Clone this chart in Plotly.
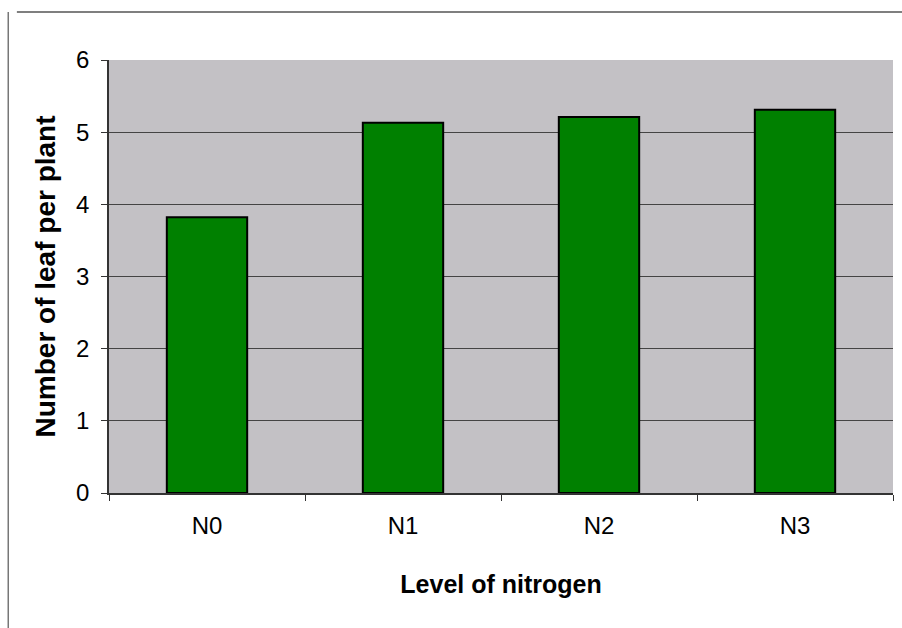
import plotly.graph_objects as go

# Nitrogen treatments and mean leaf count per plant
levels = ["N0", "N1", "N2", "N3"]
leaves_per_plant = [3.82, 5.13, 5.21, 5.31]
y_ticks = [0, 1, 2, 3, 4, 5, 6]

fig = go.Figure(
    go.Bar(
        x=levels,
        y=leaves_per_plant,
        marker=dict(color="#008000", line=dict(color="#000000", width=2)),
        width=0.41,
    )
)

fig.update_layout(
    width=902,
    height=628,
    margin=dict(l=109, r=9, t=60, b=135),
    paper_bgcolor="#ffffff",
    plot_bgcolor="#c3c1c5",
    showlegend=False,
    font=dict(family="Liberation Sans, Arial, sans-serif", color="#000000"),
    shapes=[
        # outer chart frame
        dict(type="line", xref="paper", yref="paper", x0=-0.1175, x1=1.02, y0=1.111, y1=1.111,
             line=dict(color="#555555", width=1.5)),
        dict(type="line", xref="paper", yref="paper", x0=-0.1285, x1=-0.1285, y0=-0.32, y1=1.111,
             line=dict(color="#777777", width=1.5)),
    ],
)

fig.update_xaxes(
    type="category",
    tickson="boundaries",
    ticks="outside",
    ticklen=6,
    tickcolor="#333333",
    showline=True,
    linecolor="#333333",
    linewidth=1.5,
    showgrid=False,
    tickfont=dict(size=24),
    ticklabelstandoff=10,
    title=dict(text="<b>Level of nitrogen</b>", font=dict(size=25), standoff=38),
)

fig.update_yaxes(
    range=[0, 6],
    tickvals=y_ticks,
    ticks="outside",
    ticklen=6,
    tickcolor="#333333",
    showline=True,
    linecolor="#333333",
    linewidth=1.5,
    showgrid=True,
    gridcolor="#444444",
    gridwidth=1,
    zeroline=False,
    tickfont=dict(size=24),
    ticklabelstandoff=7,
    title=dict(text="<b>Number of leaf per plant</b>", font=dict(size=28), standoff=12),
)

fig.write_html("out.html")
